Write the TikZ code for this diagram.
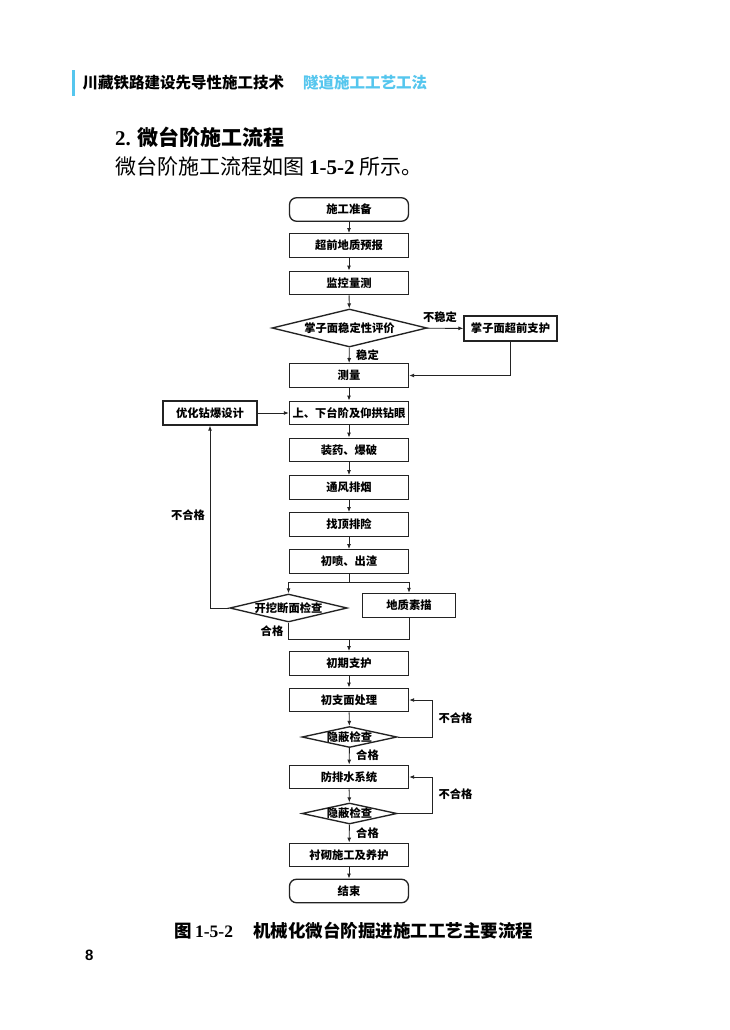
\documentclass[tikz,border=0pt]{standalone}
\usepackage{fontspec}
\setmainfont{Noto Sans CJK SC}
\newfontfamily\latinserif{Liberation Serif}
\newfontfamily\latinsans{Liberation Sans}
\definecolor{HeadCyan}{RGB}{85,198,238}
\definecolor{LineGray}{RGB}{35,35,35}
\usetikzlibrary{positioning, arrows.meta, shapes.geometric}

\begin{document}
\begin{tikzpicture}[x=1pt, y=-1pt,
    proc/.style={draw=LineGray, line width=1.35pt, minimum width=119pt, minimum height=23.5pt, inner sep=0pt, font=\fontsize{11.3}{11.3}\selectfont\bfseries},
    term/.style={proc, rounded corners=7pt},
    judge/.style={draw=LineGray, diamond, line width=1.35pt, aspect=4.5, inner sep=0pt, font=\fontsize{11.3}{11.3}\selectfont\bfseries},
    arr/.style={-{Latex[length=5pt,width=4pt]}, line width=0.9pt, LineGray},
    link/.style={line width=0.9pt, LineGray},
    tag/.style={inner sep=0pt, font=\fontsize{11.3}{11.3}\selectfont\bfseries}]
          % page
          \fill[white] (0,0) rectangle (730,1030);
          \useasboundingbox (0,0) rectangle (730,1030);
          \fill[HeadCyan] (71.7,70) rectangle (75,96);
          \node[anchor=west, inner sep=0pt, font=\fontsize{15.5}{15.5}\selectfont\bfseries] (head) at (82.5,83) {川藏铁路建设先导性施工技术};
          \node[anchor=west, inner sep=0pt, text=HeadCyan, font=\fontsize{15.5}{15.5}\selectfont\bfseries] (chapter) at (303,83) {隧道施工工艺工法};
          \node[anchor=west, inner sep=0pt, font=\fontsize{21}{21}\selectfont\bfseries] (title) at (115,137) {{\latinserif 2.}\,\,微台阶施工流程};
          \node[anchor=west, inner sep=0pt, font=\fontsize{21}{21}\selectfont] (intro) at (115,167) {微台阶施工流程如图\hspace{5pt}{\latinserif\bfseries 1-5-2}\hspace{5pt}所示。};

          % main column
          \node[term] (start) at (349,209.5) {施工准备};
          \node[proc] (fore) at (349,245.5) {超前地质预报};
          \node[proc] (monitor) at (349,283) {监控量测};
          \node[judge, minimum width=155pt, minimum height=38pt] (eval) at (349.5,328) {掌子面稳定性评价};
          \node[proc, minimum width=93pt, minimum height=25pt] (face) at (510.5,328.5) {掌子面超前支护};
          \node[proc] (measure) at (349,375.5) {测量};
          \node[proc] (drill) at (349,413) {上、下台阶及仰拱钻眼};
          \node[proc, minimum width=94pt, minimum height=24pt] (design) at (210,413) {优化钻爆设计};
          \node[proc] (charge) at (349,450) {装药、爆破};
          \node[proc] (vent) at (349,487.5) {通风排烟};
          \node[proc] (scale) at (349,524.5) {找顶排险};
          \node[proc] (spray) at (349,561.5) {初喷、出渣};
          \node[judge, minimum width=117pt, minimum height=28pt] (check) at (288.5,608) {开挖断面检查};
          \node[proc, minimum width=93pt, minimum height=24pt] (geo) at (409,605.5) {地质素描};
          \node[proc] (support) at (349,663.5) {初期支护};
          \node[proc] (treat) at (349,700) {初支面处理};
          \node[judge, minimum width=95pt, minimum height=21pt] (hideA) at (349.5,737) {隐蔽检查};
          \node[proc] (water) at (349,777) {防排水系统};
          \node[judge, minimum width=95pt, minimum height=21pt] (hideB) at (349.5,813.5) {隐蔽检查};
          \node[proc] (lining) at (349,855) {衬砌施工及养护};
          \node[term] (finish) at (349,891) {结束};
          \coordinate (split) at (349,582);
          \coordinate (merge) at (349,639);

          % connectors
          \draw[arr] (start) -- (fore);
          \draw[arr] (fore) -- (monitor);
          \draw[arr] (monitor) -- (eval);
          \draw[arr] (eval) -- (measure);
          \draw[arr] (eval) -- (face);
          \draw[arr] (face.south) |- (measure.east);
          \draw[arr] (measure) -- (drill);
          \draw[arr] (design) -- (drill);
          \draw[arr] (drill) -- (charge);
          \draw[arr] (charge) -- (vent);
          \draw[arr] (vent) -- (scale);
          \draw[arr] (scale) -- (spray);
          \draw[link] (spray) -- (split);
          \draw[arr] (split) -| (check.north);
          \draw[arr] (split) -| (geo.north);
          \draw[arr] (check.west) -| (design.south);
          \draw[link] (check.south) |- (merge);
          \draw[link] (geo.south) |- (merge);
          \draw[arr] (merge) -- (support);
          \draw[arr] (support) -- (treat);
          \draw[arr] (treat) -- (hideA);
          \draw[arr] (hideA.east) -- ++(35,0) |- (treat.east);
          \draw[arr] (hideA) -- (water);
          \draw[arr] (water) -- (hideB);
          \draw[arr] (hideB.east) -- ++(35,0) |- (water.east);
          \draw[arr] (hideB) -- (lining);
          \draw[arr] (lining) -- (finish);

          % labels
          \node[tag] (unstable) at (440,317) {不稳定};
          \node[tag] (stable) at (367.5,355) {稳定};
          \node[tag] (failA) at (188,515) {不合格};
          \node[tag] (passA) at (272,631) {合格};
          \node[tag] (failB) at (455.5,718) {不合格};
          \node[tag] (passB) at (367.5,755) {合格};
          \node[tag] (failC) at (455.5,794) {不合格};
          \node[tag] (passC) at (367.5,833) {合格};

          % caption
          \node[anchor=west, inner sep=0pt, font=\fontsize{17.5}{17.5}\selectfont\bfseries] (caption) at (174.5,931) {图\,{\latinserif 1-5-2}\hspace{20pt}机械化微台阶掘进施工工艺主要流程};
          \node[anchor=west, inner sep=0pt, font=\latinsans\fontsize{15}{15}\selectfont\bfseries] (page) at (85,955) {8};
        \end{tikzpicture}
\end{document}
